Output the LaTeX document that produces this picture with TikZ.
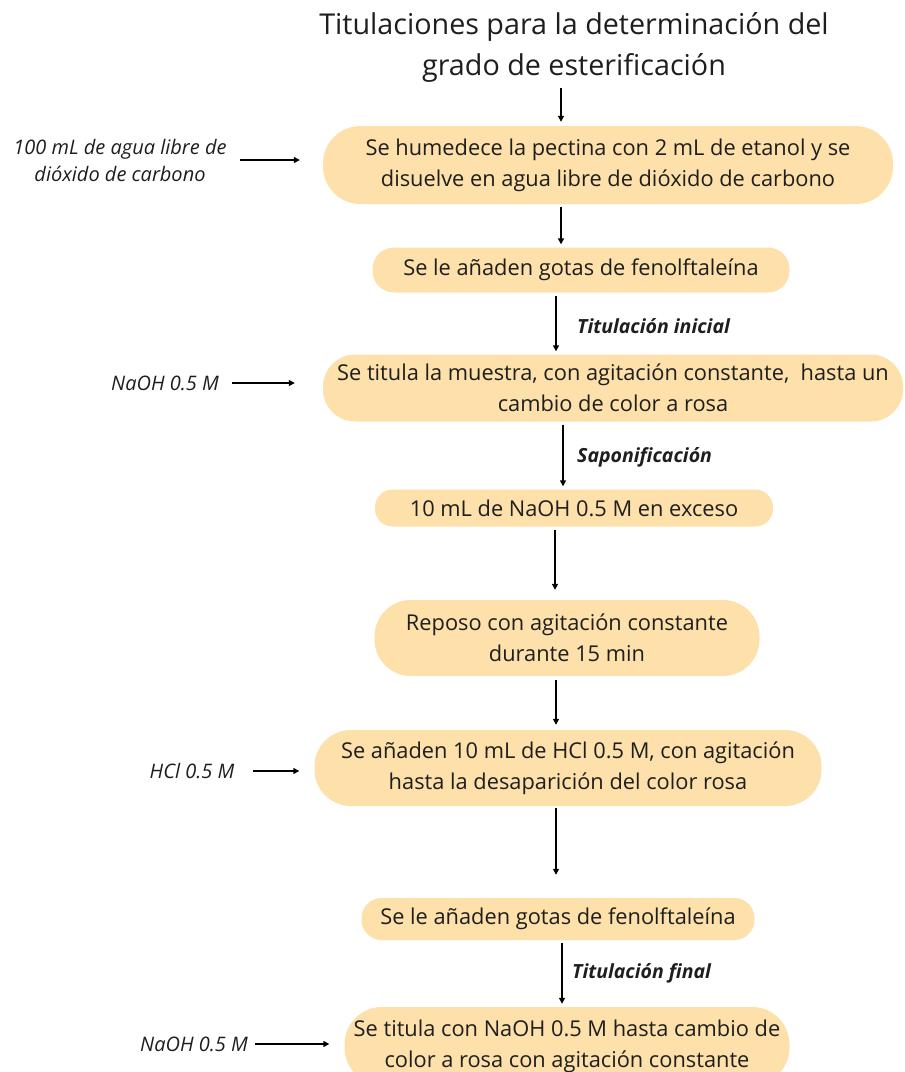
\documentclass[tikz,border=0pt]{standalone}
\usepackage{fontspec}
\setmainfont{Open Sans}
\usetikzlibrary{arrows.meta}
\definecolor{stepfill}{RGB}{253,224,170}
\definecolor{ink}{RGB}{30,30,30}
\tikzset{
  stepbox/.style={fill=stepfill, draw=none, text=ink, align=center,
    inner sep=0pt, font=\fontsize{21.8}{31}\selectfont},
  sidelabel/.style={text=ink, align=center, inner sep=0pt,
    font=\fontsize{20}{27}\selectfont\itshape},
  phase/.style={text=ink, anchor=west, inner sep=0pt,
    font=\fontsize{19.5}{20}\selectfont\bfseries\itshape},
  arr/.style={-{Triangle[length=6pt,width=6pt]}, line width=1.4pt, draw=black},
}
\newcommand{\stepnode}[6]{% name, cx, cy, width, height, text
  \node[stepbox, minimum width=#4pt, minimum height=#5pt,
        rounded corners=0.48*#5pt] (#1) at (#2,#3) {#6};}
\begin{document}
\begin{tikzpicture}[x=1pt,y=1pt]
\useasboundingbox (0,0) rectangle (905,-1072);
\clip (0,0) rectangle (905,-1072);
\fill[white] (0,0) rectangle (905,-1072);

% heading
\node[text=ink, align=center, inner sep=0pt,
      font=\fontsize{28.7}{41}\selectfont] (title) at (574,-47)
  {Titulaciones para la determinación del\\grado de esterificación};

% process steps
\stepnode{b1}{608}{-165}{570}{78}{Se humedece la pectina con 2 mL de etanol y se\\disuelve en agua libre de dióxido de carbono}
\stepnode{b2}{581}{-270}{417}{45}{Se le añaden gotas de fenolftaleína}
\stepnode{b3}{613}{-388}{580}{67}{Se titula la muestra, con agitación constante,\ \ hasta un\\cambio de color a rosa}
\stepnode{b4}{574}{-508}{398}{37}{10 mL de NaOH 0.5 M en exceso}
\stepnode{b5}{567}{-638}{385}{76}{Reposo con agitación constante\\durante 15 min}
\stepnode{b6}{568}{-768}{507}{76}{Se añaden 10 mL de HCl 0.5 M, con agitación\\hasta la desaparición del color rosa}
\stepnode{b7}{558}{-919}{393}{42}{Se le añaden gotas de fenolftaleína}
\stepnode{b8}{567}{-1046}{445}{78}{Se titula con NaOH 0.5 M hasta cambio de\\color a rosa con agitación constante}

% reagents added from the side
\node[sidelabel] (r1) at (120,-160) {100 mL de agua libre de\\dióxido de carbono};
\node[sidelabel] (r3) at (165,-383) {NaOH 0.5 M};
\node[sidelabel] (r6) at (192,-771) {HCl 0.5 M};
\node[sidelabel] (r8) at (194,-1044) {NaOH 0.5 M};

% phase labels
\node[phase] (p1) at (577,-326) {Titulación inicial};
\node[phase] (p2) at (577,-457) {Saponificación};
\node[phase] (p3) at (572,-973) {Titulación final};

% vertical flow
\draw[arr] ([yshift=-6pt]title.south -| 561,0) -- ([yshift=4pt]b1.north -| 561,0);
\draw[arr] ([yshift=-3pt]b1.south -| 561,0) -- ([yshift=3pt]b2.north -| 561,0);
\draw[arr] ([yshift=-3pt]b2.south -| 556,0) -- ([yshift=3pt]b3.north -| 556,0);
\draw[arr] ([yshift=-3pt]b3.south -| 563,0) -- ([yshift=3pt]b4.north -| 563,0);
\draw[arr] ([yshift=-3pt]b4.south -| 555,0) -- ([yshift=10pt]b5.north -| 555,0);
\draw[arr] ([yshift=-4pt]b5.south -| 556,0) -- ([yshift=5pt]b6.north -| 556,0);
\draw[arr] ([yshift=-2pt]b6.south -| 556,0) -- ([yshift=23pt]b7.north -| 556,0);
\draw[arr] ([yshift=-3pt]b7.south -| 562,0) -- ([yshift=3pt]b8.north -| 562,0);

% side inputs
\draw[arr] (240,0 |- r1.center) -- ([xshift=-23pt]b1.west |- r1.center);
\draw[arr] (232,0 |- r3.center) -- ([xshift=-28pt]b3.west |- r3.center);
\draw[arr] (253,0 |- r6.center) -- ([xshift=-15pt]b6.west |- r6.center);
\draw[arr] (255,0 |- r8.center) -- ([xshift=-15pt]b8.west |- r8.center);
\end{tikzpicture}
\end{document}
